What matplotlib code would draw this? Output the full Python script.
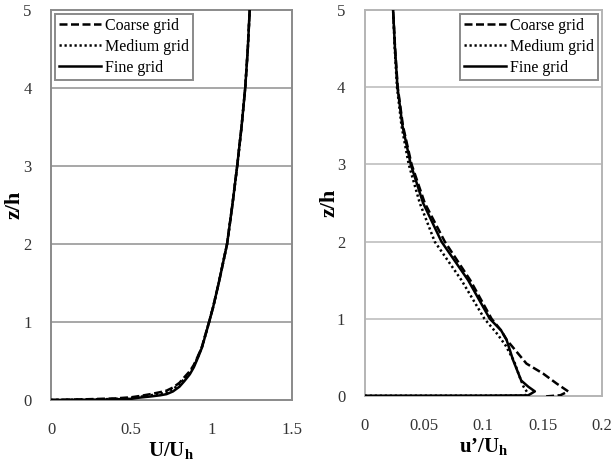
import matplotlib
matplotlib.use("Agg")
import matplotlib.pyplot as plt
from matplotlib.lines import Line2D

# ── Font ──────────────────────────────────────────────────────────────────────
plt.rcParams["font.family"] = ["Liberation Serif", "DejaVu Serif"]
plt.rcParams["mathtext.fontset"] = "custom"
plt.rcParams["mathtext.rm"] = "Liberation Serif"
plt.rcParams["mathtext.it"] = "Liberation Serif:italic"
plt.rcParams["mathtext.bf"] = "Liberation Serif:bold"

# ── Dati: velocità media U/Uh ────────────────────────────────────────────────
u_fine_x = [0.0, 0.2, 0.4, 0.5, 0.55, 0.62, 0.68, 0.72, 0.76, 0.80, 0.83, 0.865, 0.89,
            0.917, 0.94, 0.958, 0.985, 1.01, 1.045, 1.097, 1.13, 1.16, 1.187, 1.21, 1.226, 1.238]
u_fine_z = [0.0, 0.003, 0.008, 0.015, 0.03, 0.045, 0.06, 0.075, 0.11, 0.17, 0.24, 0.33, 0.42,
            0.55, 0.67, 0.80, 1.0, 1.19, 1.5, 2.0, 2.5, 3.0, 3.5, 4.0, 4.5, 5.0]
u_coarse_x = [0.0, 0.2, 0.4, 0.5, 0.55, 0.62, 0.68, 0.72, 0.76, 0.80, 0.83, 0.865, 0.89,
              0.917, 0.94, 0.958, 0.985, 1.01, 1.045, 1.097, 1.13, 1.16, 1.187, 1.21, 1.226, 1.238]
u_coarse_z = [0.0, 0.008, 0.02, 0.035, 0.05, 0.075, 0.1, 0.12, 0.16, 0.22, 0.29, 0.37, 0.45,
              0.57, 0.68, 0.81, 1.0, 1.19, 1.5, 2.0, 2.5, 3.0, 3.5, 4.0, 4.5, 5.0]
u_medium_x = [0.0, 0.2, 0.4, 0.5, 0.55, 0.62, 0.68, 0.72, 0.76, 0.80, 0.83, 0.865, 0.89,
              0.917, 0.94, 0.958, 0.985, 1.01, 1.045, 1.097, 1.13, 1.16, 1.187, 1.21, 1.226, 1.238]
u_medium_z = [0.0, 0.005, 0.013, 0.025, 0.04, 0.06, 0.08, 0.1, 0.14, 0.2, 0.27, 0.35, 0.44,
              0.56, 0.675, 0.805, 1.0, 1.19, 1.5, 2.0, 2.5, 3.0, 3.5, 4.0, 4.5, 5.0]

# ── Dati: intensità turbolenta u'/Uh ─────────────────────────────────────────
t_fine_x = [0.0, 0.10, 0.1378, 0.1435, 0.138, 0.132, 0.125, 0.1196, 0.115, 0.1055,
            0.0872, 0.0647, 0.0492, 0.0388, 0.0318, 0.0276, 0.0255, 0.0239]
t_fine_z = [0.004, 0.005, 0.008, 0.06, 0.12, 0.2, 0.47, 0.73, 0.85, 1.0,
            1.5, 2.0, 2.5, 3.0, 3.5, 4.0, 4.5, 5.0]
t_coarse_x = [0.153, 0.165, 0.1716, 0.162, 0.1505, 0.1364, 0.1196, 0.115, 0.107,
              0.089, 0.0675, 0.0506, 0.0395, 0.0322, 0.0278, 0.0256, 0.0239]
t_coarse_z = [-0.005, 0.01, 0.06, 0.16, 0.29, 0.42, 0.73, 0.85, 1.0,
              1.5, 2.0, 2.5, 3.0, 3.5, 4.0, 4.5, 5.0]
t_medium_x = [0.0, 0.10, 0.1355, 0.137, 0.134, 0.1306, 0.126, 0.119, 0.112, 0.101,
              0.0816, 0.059, 0.0464, 0.0371, 0.031, 0.0272, 0.0253, 0.0239]
t_medium_z = [0.003, 0.004, 0.006, 0.05, 0.12, 0.25, 0.45, 0.65, 0.8, 1.0,
              1.5, 2.0, 2.5, 3.0, 3.5, 4.0, 4.5, 5.0]

# ── Stili ─────────────────────────────────────────────────────────────────────
LW = 1.8
STY_COARSE = dict(color="black", lw=LW, ls=(0, (3.2, 1.4)))
STY_MEDIUM = dict(color="black", lw=LW, ls=(0, (0.9, 1.1)))
STY_FINE   = dict(color="black", lw=LW, ls="-")


def style_axes(ax, xlim, xticks, xticklabels, xlabel, frame_col, grid_col):
    ax.set_xlim(*xlim)
    ax.set_ylim(0, 5)
    ax.set_xticks(xticks)
    ax.set_xticklabels(xticklabels)
    ax.set_yticks([0, 1, 2, 3, 4, 5])
    for y in [1, 2, 3, 4]:
        ax.axhline(y, color=grid_col, lw=1.3, zorder=1)
    for s in ax.spines.values():
        s.set_color(frame_col)
        s.set_linewidth(1.4)
    ax.tick_params(axis="both", length=0, labelsize=12, colors="#333333")
    ax.tick_params(axis="y", pad=14)
    ax.tick_params(axis="x", pad=16)
    ax.set_xlabel(xlabel, fontsize=15, fontweight="bold", labelpad=1)
    ax.set_ylabel("z/h", fontsize=16, fontweight="bold", va="center")
    ax.yaxis.set_label_coords(-0.15, 0.5)


def add_legend(ax, loc):
    handles = [Line2D([], [], **STY_COARSE), Line2D([], [], **STY_MEDIUM),
               Line2D([], [], **STY_FINE)]
    leg = ax.legend(handles, ["Coarse grid", "Medium grid", "Fine grid"],
                    loc=loc, fontsize=11.5, frameon=True, fancybox=False,
                    framealpha=1, handlelength=2.6, handletextpad=0.25,
                    borderpad=0.25, labelspacing=0.3, borderaxespad=0.25)
    leg.get_frame().set_edgecolor("#8a8a8a")
    leg.get_frame().set_linewidth(1.4)
    return leg


fig = plt.figure(figsize=(6.11, 4.67), dpi=100, facecolor="white")
ax_u = fig.add_axes([0.0835, 0.1435, 0.394, 0.835])
ax_t = fig.add_axes([0.597, 0.152, 0.388, 0.8266])

ax_u.plot(u_coarse_x, u_coarse_z, zorder=3, **STY_COARSE)
ax_u.plot(u_medium_x, u_medium_z, zorder=3, **STY_MEDIUM)
ax_u.plot(u_fine_x, u_fine_z, zorder=4, **STY_FINE)
style_axes(ax_u, (0, 1.5), [0, 0.5, 1, 1.5], ["0", "0.5", "1", "1.5"],
           r"$\mathbf{U/U_h}$", "#8a8a8a", "#a0a0a0")
add_legend(ax_u, "upper left")

ax_t.plot(t_coarse_x, t_coarse_z, zorder=3, **STY_COARSE)
ax_t.plot(t_medium_x, t_medium_z, zorder=3, **STY_MEDIUM)
ax_t.plot(t_fine_x, t_fine_z, zorder=4, **STY_FINE)
style_axes(ax_t, (0, 0.2), [0, 0.05, 0.1, 0.15, 0.2], ["0", "0.05", "0.1", "0.15", "0.2"],
           "$\\mathbf{u\u2019/U_h}$", "#b4b4b4", "#c4c4c4")
add_legend(ax_t, "upper right")

fig.savefig("out.png", dpi=100)
plt.close(fig)
